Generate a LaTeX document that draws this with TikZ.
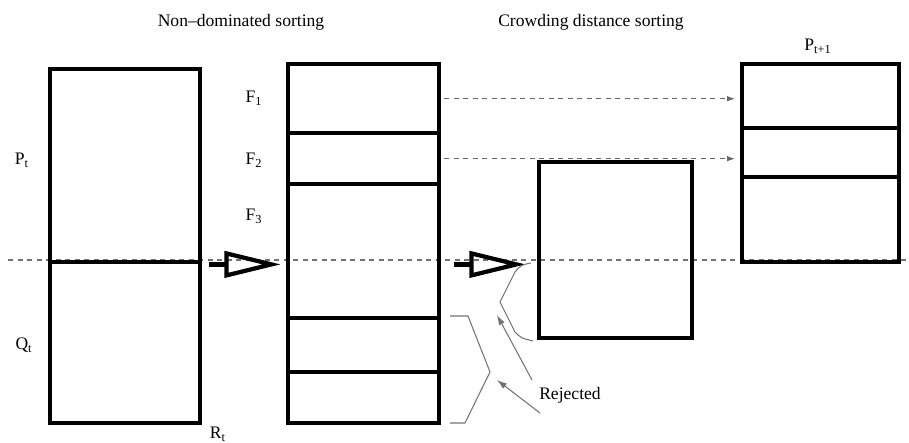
\documentclass[tikz,border=0pt]{standalone}
\usepackage{fontspec}
\setmainfont{Liberation Serif}
\usepackage{tikz}
\usetikzlibrary{arrows.meta}
\usetikzlibrary{positioning,calc}
\tikzset{
  every node/.style={font=\rmfamily}
}

\begin{document}
\begin{tikzpicture}[x=0.2mm, y=-0.2mm]
  % Define styles for boxes and arrows
  \tikzset{
    cell/.style={
      draw,
      line width=2.5pt,
      inner sep=0pt,
      anchor=north west,
      minimum width=#1
    },
    bigline/.style={
      draw,
      line width=2.4pt,
      line join=miter
    },
    dasharrow/.style={
      draw=black!60,
      line width=0.6pt,
      dash pattern=on 1mm off 0.9mm,
      -{Latex[length=1.6mm, width=1.1mm]}
    },
    thinline/.style={
      draw=black!55,
      line width=0.6pt
    },
    label/.style={font=\rmfamily}
  }
  \useasboundingbox (0,0) rectangle (909,442);

  % Dashed middle line
  \draw[thinline, dash pattern=on 1mm off 0.9mm] (8,260) -- (909,260);

  % Create R_t = P_t + Q_t
  \node[cell=30mm, minimum height=38.6mm] (Pt) at (48,67) {};
  \node[cell=30mm, minimum height=32.2mm] (Qt) at (48,260) {};

  % Create fronts F_1 ... F_5
  \node[cell=30.2mm, minimum height=13.8mm] (F1) at (286,62) {};
  \node[cell=30.2mm, minimum height=10.2mm] (F2) at (286,131) {};
  \node[cell=30.2mm, minimum height=26.8mm] (F3) at (286,182) {};
  \node[cell=30.2mm, minimum height=10.8mm] (F4) at (286,316) {};
  \node[cell=30.2mm, minimum height=10.2mm] (F5) at (286,370) {};

  % Crowding box and P_{t+1}
  \node[cell=30.6mm, minimum height=35.2mm] (Cd) at (537,160) {};
  \node[cell=31.4mm, minimum height=12.8mm] (N1) at (740,62) {};
  \node[cell=31.4mm, minimum height=9.8mm] (N2) at (740,126) {};
  \node[cell=31.4mm, minimum height=17mm] (N3) at (740,175) {};

  % Big hollow arrows
  \coordinate (a1) at ($(Pt.south east)+(7,0)$);
  \coordinate (a2) at ($(Pt.south east -| F3.east)+(13,0)$);
  \foreach \a in {a1,a2} {
    \draw[bigline] (\a) -- ++(17,0);
    \draw[bigline] ($(\a)+(17,-11)$) -- ($(\a)+(62,0)$) -- ($(\a)+(17,11)$) -- cycle;
  }

  % Dashed arrows to P_{t+1}
  \draw[dasharrow, shorten <=0.6mm, shorten >=1mm] (F1.east) -- (F1.east -| N1.west);
  \draw[dasharrow, shorten <=0.6mm, shorten >=1mm] (F2.east) -- (F2.east -| N2.west);

  % Labels
  \node[label] (nds) at (241,22) {Non--dominated sorting};
  \node[label] (cds) at (591,22) {Crowding distance sorting};
  \node[label] (lPn) at (818,46) {P\textsubscript{t+1}};
  \node[label] (lPt) at (22,160) {P\textsubscript{t}};
  \node[label] (lQt) at (24,345) {Q\textsubscript{t}};
  \node[label] (lRt) at (218,434) {R\textsubscript{t}};
  \node[label] (lF1) at (254,98) {F\textsubscript{1}};
  \node[label] (lF2) at (254,160) {F\textsubscript{2}};
  \node[label] (lF3) at (254,216) {F\textsubscript{3}};
  \node[label] (rej) at (570,395) {Rejected};

  % Brackets round the rejected parts
  \draw[thinline] (450,316) -- (468,316) -- (490,372) -- (465,423) -- (450,423);
  \draw[thinline] (531,263) .. controls (521,265) .. (515,272) -- (500,302)
    -- (515,332) .. controls (521,338) .. (533,341);

  % Arrows from Rejected
  \coordinate (r1) at (532,380);
  \coordinate (r2) at (540,413);
  \draw[thinline, -{Latex[length=2mm, width=1.3mm]}] (r1) -- (497,315);
  \draw[thinline, -{Latex[length=2mm, width=1.3mm]}] (r2) -- (497,380);
\end{tikzpicture}
\end{document}
